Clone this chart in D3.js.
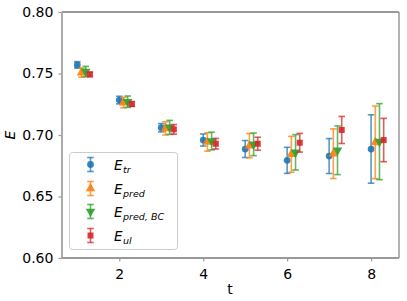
<!DOCTYPE html>
<html><head><meta charset="utf-8">
<script src="https://cdn.jsdelivr.net/npm/d3@7"></script>
<style>body{margin:0;background:#fff}svg{display:block}text{font-family:"DejaVu Sans",sans-serif}</style>
</head><body><svg id="c" width="407" height="301"></svg>
<script>
const tValues = [1,2,3,4,5,6,7,8];
const seriesNames = ["tr","pred","pred,BC","ul"];
const offsets = [0,0.1,0.2,0.3];
const colors = ["#1f77b4","#ff7f0e","#2ca02c","#d62728"];
const symbols = [d3.symbolCircle, d3.symbolTriangle, "tri-down", d3.symbolSquare];
const eTr      = [0.757,0.7284,0.7059,0.6959,0.6886,0.6794,0.6829,0.6886];
const eTrErr   = [0.0026,0.0031,0.0034,0.0049,0.0069,0.0106,0.0142,0.0278];
const ePred    = [0.7507,0.7263,0.7054,0.6943,0.6913,0.6843,0.6848,0.6940];
const ePredErr = [0.0037,0.0043,0.0054,0.0075,0.0099,0.0146,0.0202,0.0295];
const eBC      = [0.7516,0.7271,0.7062,0.6951,0.6924,0.6859,0.6876,0.6946];
const eBCErr   = [0.0042,0.0046,0.0057,0.0072,0.0092,0.0144,0.0198,0.0309];
const eUl      = [0.7493,0.7252,0.7046,0.6929,0.6929,0.6937,0.7041,0.6959];
const eUlErr   = [0.0018,0.0020,0.0039,0.0043,0.0053,0.0076,0.0110,0.0176];
const xTicks = [2,4,6,8];
const yTicks = [0.60,0.65,0.70,0.75,0.80];

const vals = [eTr,ePred,eBC,eUl], errs=[eTrErr,ePredErr,eBCErr,eUlErr];
const svg = d3.select("#c");
const L=62,R=399,T=12,B=258;
const x = d3.scaleLinear().domain([0.635,8.665]).range([L,R]);
const y = d3.scaleLinear().domain([0.60,0.80]).range([B,T]);

function sym(i){
  if(symbols[i]==="tri-down") return d3.symbol().type(d3.symbolTriangle).size(40)();
  const sz = i===0?36:(i===3?36:40);
  return d3.symbol().type(symbols[i]).size(sz)();
}

// axes
const xa = svg.append("g").attr("transform",`translate(0,${B})`).call(d3.axisBottom(x).tickValues(xTicks).tickFormat(d3.format("d")).tickSize(3.5).tickSizeOuter(0));
const ya = svg.append("g").attr("transform",`translate(${L},0)`).call(d3.axisLeft(y).tickValues(yTicks).tickFormat(d3.format(".2f")).tickSize(3.5).tickSizeOuter(0));
[xa,ya].forEach(a=>{a.select(".domain").remove();a.selectAll("line").attr("stroke","#999").attr("stroke-width",1.2);a.selectAll("text").attr("font-size",14).attr("fill","#000");});
xa.selectAll("text").attr("dy","1.05em");
ya.selectAll("text").attr("dx","-0.15em");

// spines
svg.append("line").attr("x1",L).attr("x2",R).attr("y1",T).attr("y2",T).attr("stroke","#333").attr("stroke-width",1);
svg.append("line").attr("x1",L).attr("x2",L).attr("y1",T).attr("y2",B).attr("stroke","#aaa").attr("stroke-width",2);
svg.append("line").attr("x1",R).attr("x2",R).attr("y1",T).attr("y2",B).attr("stroke","#999").attr("stroke-width",1.5);
svg.append("line").attr("x1",L).attr("x2",R).attr("y1",B).attr("y2",B).attr("stroke","#999").attr("stroke-width",2);

// data
vals.forEach((v,i)=>{
  const g = svg.append("g");
  tValues.forEach((t,j)=>{
    const cx = x(t+offsets[i]);
    const y1 = y(v[j]+errs[i][j]), y2 = y(v[j]-errs[i][j]);
    const eg = g.append("g").attr("stroke",colors[i]).attr("stroke-opacity",0.75).attr("stroke-width",1.6);
    eg.append("line").attr("x1",cx).attr("x2",cx).attr("y1",y1).attr("y2",y2);
    eg.append("line").attr("x1",cx-3.3).attr("x2",cx+3.3).attr("y1",y1).attr("y2",y1);
    eg.append("line").attr("x1",cx-3.3).attr("x2",cx+3.3).attr("y1",y2).attr("y2",y2);
    const rot = symbols[i]==="tri-down"?" rotate(180)":"";
    g.append("path").attr("d",sym(i)).attr("transform",`translate(${cx},${y(v[j])})${rot}`).attr("fill",colors[i]).attr("opacity",0.9);
  });
});

// legend
const lg = svg.append("g");
lg.append("rect").attr("x",69.5).attr("y",152.5).attr("width",108).attr("height",97).attr("rx",3).attr("fill","#fff").attr("fill-opacity",0.8).attr("stroke","#ccc").attr("stroke-width",1);
const ly=[164.5,188.5,211.5,235.5];
seriesNames.forEach((n,i)=>{
  const cx=90.5, cy=ly[i];
  const eg=lg.append("g").attr("stroke",colors[i]).attr("stroke-opacity",0.75).attr("stroke-width",1.6);
  eg.append("line").attr("x1",cx).attr("x2",cx).attr("y1",cy-7).attr("y2",cy+7);
  eg.append("line").attr("x1",cx-3.3).attr("x2",cx+3.3).attr("y1",cy-7).attr("y2",cy-7);
  eg.append("line").attr("x1",cx-3.3).attr("x2",cx+3.3).attr("y1",cy+7).attr("y2",cy+7);
  const rot = symbols[i]==="tri-down"?" rotate(180)":"";
  lg.append("path").attr("d",sym(i)).attr("transform",`translate(${cx},${cy})${rot}`).attr("fill",colors[i]).attr("opacity",0.9);
  const tx=lg.append("text").attr("x",114).attr("y",cy+5).attr("font-size",13.5).attr("font-style","italic");
  tx.append("tspan").text("E");
  tx.append("tspan").attr("font-size",9.5).attr("dy",3).attr("dx",0.5).text(n.replace(",",", "));
});

// axis labels
svg.append("text").attr("x",230).attr("y",294).attr("text-anchor","middle").attr("font-size",14).text("t");
svg.append("text").attr("transform","translate(15,135) rotate(-90)").attr("text-anchor","middle").attr("font-size",14).attr("font-style","italic").text("E");
</script></body></html>
